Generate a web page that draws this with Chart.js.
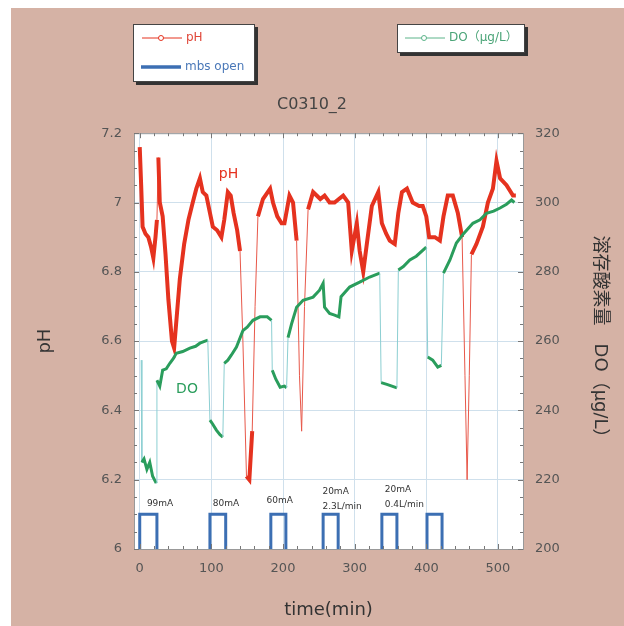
<!DOCTYPE html>
<html>
<head>
<meta charset="utf-8">
<title>C0310_2</title>
<script src="https://cdn.jsdelivr.net/npm/chart.js@4.4.1/dist/chart.umd.min.js"></script>
<style>
  html, body { margin: 0; padding: 0; background: #fff; }
  canvas { display: block; }
</style>
</head>
<body>
<canvas id="chart" width="624" height="626"></canvas>
<script>
// pH (courbe rouge), temps en minutes
const phTime = [0, 2, 4, 8, 12, 16, 19, 22, 24, 26, 28, 32, 36, 40, 45, 48, 52, 56, 62, 68,
  74, 79, 84, 88, 93, 98, 102, 108, 114, 118, 123, 127, 131, 136, 140, 144, 149, 153, 157, 161,
  165, 172, 182, 186, 192, 198, 202, 209, 214, 219, 223, 226, 230, 235, 242, 252, 258, 265, 272, 278,
  284, 291, 296, 303, 307, 312, 317, 324, 333, 338, 344, 349, 356, 361, 366, 373, 381, 390, 395, 400,
  404, 412, 419, 424, 430, 437, 444, 450, 454, 457, 460, 463, 470, 479, 486, 493, 498, 503, 512, 521, 525];
const phValue = [7.16, 7.05, 6.93, 6.91, 6.9, 6.87, 6.84, 6.9, 6.95, 7.13, 7.0, 6.96, 6.85, 6.72, 6.6, 6.58, 6.68, 6.78, 6.88, 6.95,
  7.0, 7.04, 7.07, 7.03, 7.02, 6.97, 6.93, 6.92, 6.9, 6.95, 7.03, 7.02, 6.97, 6.92, 6.86, 6.6, 6.21, 6.2, 6.34, 6.7,
  6.96, 7.01, 7.04, 7.0, 6.96, 6.94, 6.94, 7.02, 7.0, 6.89, 6.5, 6.34, 6.7, 6.98, 7.03, 7.01, 7.02, 7.0, 7.0, 7.01,
  7.02, 7.0, 6.86, 6.94, 6.86, 6.8, 6.88, 6.99, 7.03, 6.94, 6.91, 6.89, 6.88, 6.97, 7.03, 7.04, 7.0, 6.99, 6.99, 6.96,
  6.9, 6.9, 6.89, 6.96, 7.02, 7.02, 6.97, 6.9, 6.5, 6.2, 6.5, 6.85, 6.88, 6.93, 7.0, 7.04, 7.12, 7.07, 7.05, 7.02, 7.02];

// DO (µg/L), axe de droite
const doTime = [2, 3, 6, 10, 14, 18, 23, 24, 28, 32, 37, 42, 47, 51, 60, 70, 78, 84, 95, 98,
  102, 107, 112, 116, 118, 123, 128, 135, 144, 150, 158, 168, 178, 184, 185, 190, 196, 202, 205, 207,
  212, 219, 228, 242, 251, 256, 258, 265, 272, 278, 281, 293, 307, 321, 335, 337, 345, 352, 359, 361,
  368, 377, 386, 400, 402, 409, 416, 421, 424, 433, 442, 452, 465, 475, 484, 494, 503, 512, 519, 523];
const doValue = [254.5, 225, 226, 223, 225, 221, 219, 248.7, 247, 251.6, 252, 253.6, 255, 256.5, 257, 258, 258.5, 259.4, 260.3, 237.2,
  236, 234.3, 233, 232.3, 253.6, 254.5, 256, 258.3, 263, 264, 266, 267, 267, 266, 251.6, 249, 246.7, 247, 246.5, 261,
  265, 269.8, 271.8, 272.7, 274.7, 276.7, 269.8, 268, 267.5, 267, 272.8, 275.6, 277, 278.5, 279.6, 248, 247.5, 247, 246.5, 280.5,
  281.5, 283.4, 284.5, 287.1, 255.4, 254.5, 252.5, 253, 279.6, 283.4, 288.3, 291, 294, 295, 296.9, 297.5, 298.4, 299.5, 300.7, 300];

// mbs open (créneaux)
const mbsOn = [0, 98, 183, 256, 338, 401];
const mbsOff = [24, 120, 204, 277, 359, 422];
const mbsBase = 6.0;
const mbsTop = 6.1;

// annotations des créneaux
const noteTime = [10, 102, 177, 255, 342];
const noteLevel = [6.13, 6.13, 6.14, 6.165, 6.17];
const noteLines = [["99mA"], ["80mA"], ["60mA"], ["20mA", "2.3L/min"], ["20mA", "0.4L/min"]];

// étiquettes pH / DO dans le graphique
const tagText = ["pH", "DO"];
const tagTime = [124, 66];
const tagLevel = [7.08, 6.46];

// graduations
const xTicks = [0, 100, 200, 300, 400, 500];
const phTicks = [6, 6.2, 6.4, 6.6, 6.8, 7, 7.2];
const doTicks = [200, 220, 240, 260, 280, 300, 320];

const PINK = "#d5b2a5";
const RED = "#e5321f";
const GREEN = "#2a9d5c";
const TEAL = "#8ccfd2";
const BLUE = "#3c6fb3";
const FONT = "'DejaVu Sans', sans-serif";
const CJK = "'DejaVu Sans', 'Noto Sans CJK JP', sans-serif";

const phData = phTime.map((t, i) => ({ x: t, y: phValue[i] }));
const doData = doTime.map((t, i) => ({ x: t, y: doValue[i] }));
const mbsData = [];
mbsOn.forEach((t, i) => {
  mbsData.push({ x: t, y: mbsBase }, { x: t, y: mbsTop },
    { x: mbsOff[i], y: mbsTop }, { x: mbsOff[i], y: mbsBase }, { x: mbsOff[i], y: null });
});

function legendBox(ctx, x, y, w, h) {
  ctx.fillStyle = "#333";
  ctx.fillRect(x + 3, y + 3, w, h);
  ctx.fillStyle = "#fff";
  ctx.fillRect(x, y, w, h);
  ctx.strokeStyle = "#444";
  ctx.lineWidth = 1;
  ctx.strokeRect(x + 0.5, y + 0.5, w - 1, h - 1);
}

function legendItem(ctx, x, y, color, width, marker, text, textColor) {
  ctx.strokeStyle = color;
  ctx.lineWidth = width;
  ctx.beginPath();
  ctx.moveTo(x, y);
  ctx.lineTo(x + 40, y);
  ctx.stroke();
  if (marker) {
    ctx.fillStyle = "#fff";
    ctx.lineWidth = 1;
    ctx.beginPath();
    ctx.arc(x + 19, y, 2.5, 0, Math.PI * 2);
    ctx.fill();
    ctx.stroke();
  }
  ctx.fillStyle = textColor;
  ctx.font = "12px " + CJK;
  ctx.textAlign = "left";
  ctx.textBaseline = "middle";
  ctx.fillText(text, x + 44, y);
}

const decor = {
  id: "decor",
  beforeDraw(chart) {
    const { ctx, chartArea: a } = chart;
    ctx.save();
    ctx.fillStyle = "#fff";
    ctx.fillRect(0, 0, chart.width, chart.height);
    ctx.fillStyle = PINK;
    ctx.fillRect(11, 8, chart.width - 11, chart.height - 8);
    ctx.fillStyle = "#fff";
    ctx.fillRect(a.left, a.top, a.width, a.height);
    ctx.restore();
  },
  afterDraw(chart) {
    const { ctx, chartArea: a, scales } = chart;
    const x = scales.x, yl = scales.y, yr = scales.y2;
    ctx.save();

    // cadre du haut
    ctx.strokeStyle = "#999";
    ctx.lineWidth = 1;
    ctx.beginPath();
    ctx.moveTo(a.left, a.top + 0.5);
    ctx.lineTo(a.right, a.top + 0.5);
    ctx.stroke();

    // graduations intérieures
    ctx.strokeStyle = "#777";
    ctx.beginPath();
    for (let v = 0; v <= 535; v += 20) {
      const px = Math.round(x.getPixelForValue(v)) + 0.5;
      const len = v % 100 === 0 ? 5 : 3;
      ctx.moveTo(px, a.bottom); ctx.lineTo(px, a.bottom - len);
      ctx.moveTo(px, a.top); ctx.lineTo(px, a.top + len);
    }
    for (let i = 0; i <= 24; i++) {
      const len = i % 4 === 0 ? 5 : 3;
      const pl = Math.round(yl.getPixelForValue(6 + i * 0.05)) + 0.5;
      ctx.moveTo(a.left, pl); ctx.lineTo(a.left + len, pl);
      const pr = Math.round(yr.getPixelForValue(200 + i * 5)) + 0.5;
      ctx.moveTo(a.right, pr); ctx.lineTo(a.right - len, pr);
    }
    ctx.stroke();

    // annotations
    ctx.fillStyle = "#333";
    ctx.font = "9px " + FONT;
    ctx.textAlign = "left";
    ctx.textBaseline = "middle";
    noteLines.forEach((lines, i) => {
      const px = x.getPixelForValue(noteTime[i]);
      const py = yl.getPixelForValue(noteLevel[i]);
      lines.forEach((s, j) => ctx.fillText(s, px, py + j * 15));
    });

    // étiquettes des séries
    ctx.font = "14px " + FONT;
    ctx.textAlign = "center";
    tagText.forEach((s, i) => {
      ctx.fillStyle = i === 0 ? RED : GREEN;
      ctx.fillText(s, x.getPixelForValue(tagTime[i]), yl.getPixelForValue(tagLevel[i]));
    });

    // légendes
    const ds = chart.data.datasets;
    legendBox(ctx, 133, 24, 122, 58);
    legendItem(ctx, 142, 38, RED, 1, true, ds[0].label, "#e0483a");
    legendItem(ctx, 141, 67, BLUE, 3.5, false, ds[2].label, "#4a78b8");
    legendBox(ctx, 397, 24, 128, 29);
    legendItem(ctx, 405, 38, "#5cb48a", 1, true, ds[1].label, "#4aa477");

    ctx.restore();
  }
};

const tickFont = { family: FONT, size: 13 };

new Chart(document.getElementById("chart"), {
  type: "line",
  data: {
    datasets: [
      {
        label: "pH",
        data: phData,
        yAxisID: "y",
        borderColor: RED,
        borderWidth: 4,
        pointRadius: 0,
        order: 2,
        segment: {
          borderWidth: ctx => Math.abs(ctx.p1.parsed.y - ctx.p0.parsed.y) > 0.15 ? 1 : 4,
          borderColor: ctx => Math.abs(ctx.p1.parsed.y - ctx.p0.parsed.y) > 0.15 ? "#e8584a" : RED
        }
      },
      {
        label: "DO（μg/L）",
        data: doData,
        yAxisID: "y2",
        borderColor: GREEN,
        borderWidth: 3,
        pointRadius: 0,
        order: 1,
        segment: {
          borderWidth: ctx => Math.abs(ctx.p1.parsed.y - ctx.p0.parsed.y) > 10 ? 1 : 3,
          borderColor: ctx => Math.abs(ctx.p1.parsed.y - ctx.p0.parsed.y) > 10 ? TEAL : GREEN
        }
      },
      {
        label: "mbs open",
        data: mbsData,
        yAxisID: "y",
        borderColor: BLUE,
        borderWidth: 3,
        pointRadius: 0,
        spanGaps: false,
        order: 0
      }
    ]
  },
  options: {
    responsive: false,
    animation: false,
    devicePixelRatio: 1,
    layout: { padding: 0 },
    plugins: {
      legend: { display: false },
      tooltip: { enabled: false },
      title: {
        display: true,
        text: "C0310_2",
        color: "#444",
        font: { family: FONT, size: 16, weight: "normal" },
        padding: { top: 95, bottom: 19 }
      }
    },
    scales: {
      x: {
        type: "linear",
        min: -8,
        max: 535,
        afterBuildTicks: s => { s.ticks = xTicks.map(v => ({ value: v })); },
        afterFit: s => { s.height = 77; },
        ticks: { color: "#555", font: tickFont, padding: 12, maxRotation: 0 },
        grid: { color: "#cfe0ec", drawTicks: false },
        border: { color: "#999" },
        title: {
          display: true,
          text: "time(min)",
          color: "#333",
          font: { family: FONT, size: 18 },
          padding: { top: 0, bottom: 5 }
        }
      },
      y: {
        position: "left",
        min: 6,
        max: 7.2,
        afterBuildTicks: s => { s.ticks = phTicks.map(v => ({ value: v })); },
        afterFit: s => { s.width = 134; },
        ticks: { color: "#555", font: tickFont, padding: 12, callback: v => String(Math.round(v * 10) / 10) },
        grid: { color: "#cfe0ec", drawTicks: false },
        border: { color: "#999" },
        title: {
          display: true,
          text: "pH",
          color: "#333",
          font: { family: FONT, size: 18 },
          padding: { top: 35, bottom: 0 }
        }
      },
      y2: {
        position: "right",
        min: 200,
        max: 320,
        afterBuildTicks: s => { s.ticks = doTicks.map(v => ({ value: v })); },
        afterFit: s => { s.width = 101; },
        ticks: { color: "#555", font: tickFont, padding: 12 },
        grid: { display: false, drawTicks: false },
        border: { color: "#999" },
        title: {
          display: true,
          text: "溶存酸素量　DO（μg/L）",
          color: "#333",
          font: { family: CJK, size: 18 },
          padding: { top: 14, bottom: 0 }
        }
      }
    }
  },
  plugins: [decor]
});
</script>
</body>
</html>
